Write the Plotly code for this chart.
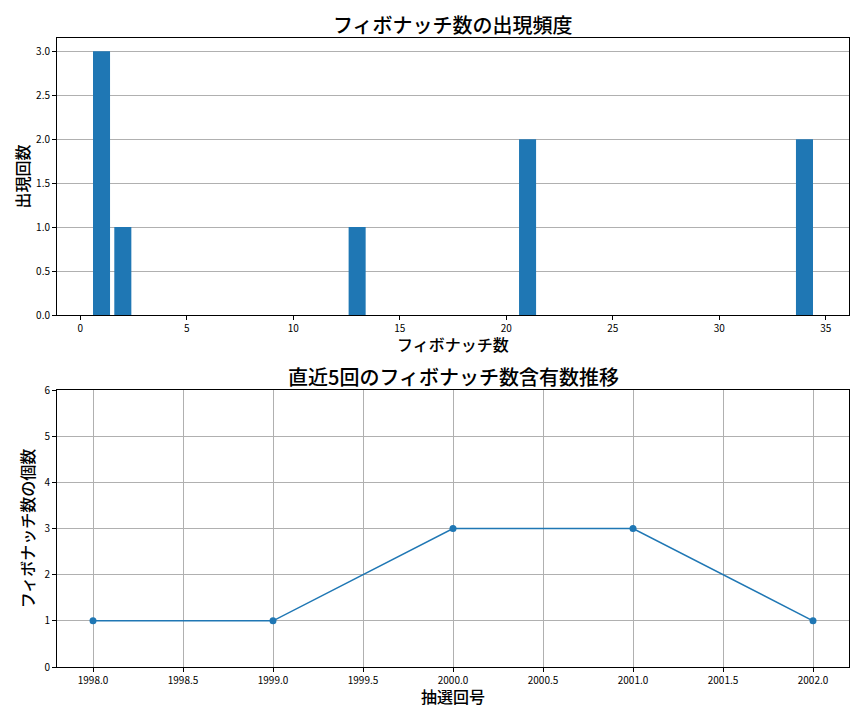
import plotly.graph_objects as go
from plotly.subplots import make_subplots

# 出現頻度
FIB_NUMBERS = [1, 2, 13, 21, 34]
FIB_COUNTS = [3, 1, 1, 2, 2]

# 直近5回
DRAW_NUMBERS = [1998, 1999, 2000, 2001, 2002]
FIB_PER_DRAW = [1, 1, 3, 3, 1]

FONT = "Noto Sans CJK JP"
BLUE = "#1f77b4"
GRID = "#b0b0b0"
W, H = 864, 720
OFF = 8  # page body margin


def px_x(x):
    return (x - OFF) / W


def px_y(y):
    return 1 - (y - OFF) / H


def text_note(text, x, y, font):
    return dict(text=text, x=x, y=y, xref="paper", yref="paper", showarrow=False,
                xanchor="center", yanchor="middle", font=font)


def main():
    fig = make_subplots(rows=2, cols=1)

    fig.add_trace(go.Bar(x=FIB_NUMBERS, y=FIB_COUNTS, width=0.8, marker=dict(color=BLUE, line=dict(width=0)),
                         showlegend=False), row=1, col=1)
    fig.add_trace(go.Scatter(x=DRAW_NUMBERS, y=FIB_PER_DRAW, mode="lines+markers",
                             line=dict(color=BLUE, width=1.5), marker=dict(color=BLUE, size=7),
                             showlegend=False), row=2, col=1)

    axis_common = dict(showline=True, linecolor="black", linewidth=1, mirror=True, ticks="outside",
                       ticklen=4, tickcolor="black", tickfont=dict(family=FONT, size=10, color="black"),
                       zeroline=False, gridcolor=GRID, gridwidth=0.8, automargin=False)
    label_font = dict(family=FONT, size=16, color="black", weight=500)
    title_font = dict(family=FONT, size=20, color="black", weight=500)

    x_dom = [px_x(57), px_x(849)]
    x_mid = 0.5 * (x_dom[0] + x_dom[1])
    fig.update_layout(
        xaxis=dict(domain=x_dom, range=[-1.09, 36.09], dtick=5, showgrid=False, **axis_common),
        yaxis=dict(domain=[px_y(315), px_y(38)], range=[0, 3.15], dtick=0.5, tickformat=".1f",
                   showgrid=True,
                   title=dict(text="出現回数", font=label_font, standoff=2),
                   **axis_common),
        xaxis2=dict(domain=x_dom, range=[1997.8, 2002.2], dtick=0.5, tickformat=".1f", showgrid=True,
                    **axis_common),
        yaxis2=dict(domain=[px_y(667), px_y(390)], range=[0, 6], dtick=1, showgrid=True,
                    title=dict(text="フィボナッチ数の個数", font=label_font, standoff=5),
                    **axis_common),
        annotations=[
            text_note("フィボナッチ数の出現頻度", x_mid, px_y(24), title_font),
            text_note("直近5回のフィボナッチ数含有数推移", x_mid, px_y(376), title_font),
            text_note("フィボナッチ数", x_mid, px_y(344), label_font),
            text_note("抽選回号", x_mid, px_y(696), label_font),
        ],
        width=W, height=H,
        margin=dict(l=0, r=0, t=0, b=0),
        plot_bgcolor="white", paper_bgcolor="white",
        font=dict(family=FONT),
    )

    fig.write_html("out.html")


if __name__ == "__main__":
    main()
